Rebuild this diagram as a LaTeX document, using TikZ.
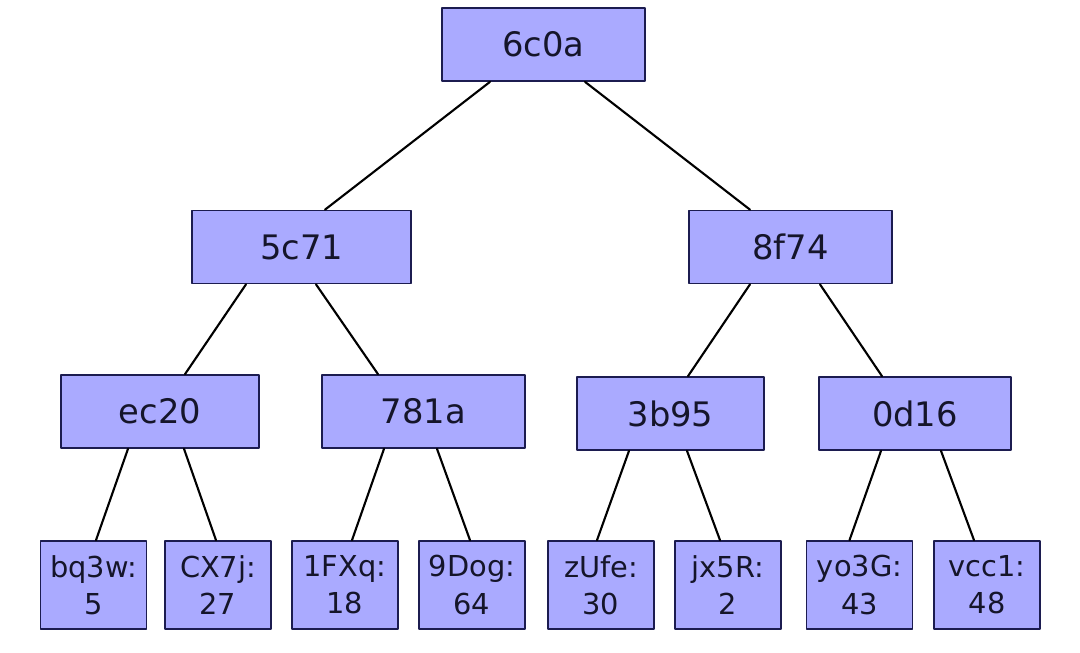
\documentclass[tikz,border=0pt]{standalone}
\usepackage{fontspec}
\setmainfont{DejaVu Sans}
\definecolor{nen}{HTML}{AAAAFF}
\definecolor{vien}{HTML}{1C1C50}
\definecolor{chu}{HTML}{15152A}
\def\px{0.025cm} % 1 px của hình gốc
\tikzset{
	hop/.style={draw=vien, fill=nen, text=chu, line width=1.2pt, inner sep=0pt, minimum height=73*\px, font=\fontsize{24}{29}\selectfont},
	la/.style={hop, align=center, minimum width=106*\px, minimum height=88*\px, font=\fontsize{20.5}{26.5}\selectfont},
	canh/.style={line width=1.5pt}
}
\begin{document}
\begin{tikzpicture}[x=\px, y=-\px, line cap=round, line join=round]
	\useasboundingbox (0,0) rectangle (1080,652); % khung hình
	\foreach \ten/\x/\y/\w in {6c0a/543.5/44.5/203, 5c71/301.5/247/219, 8f74/790.5/247/203, ec20/160/411.5/198, 781a/423.5/411.5/203, 3b95/670.5/413.5/187, 0d16/915/413.5/192}
	\node[hop, minimum width=\w*\px] (n\ten) at (\x,\y) {\ten}; % các nút trong
	\foreach \ten/\x/\so in {bq3w/93.5/5, CX7j/218/27, 1FXq/345/18, 9Dog/472/64, zUfe/601/30, jx5R/728/2, yo3G/859.5/43, vcc1/987/48}
	\node[la] (n\ten) at (\x,585) {\ten:\\\so}; % các lá
	\foreach \a/\da/\b/\db in {6c0a/-53.5/5c71/23.5, 6c0a/41.5/8f74/-40.5, 5c71/-55.5/ec20/25, 5c71/14.5/781a/-45.5, 8f74/-40.5/3b95/17.5, 8f74/29.5/0d16/-33, ec20/-32/bq3w/2.5, ec20/24/CX7j/-2, 781a/-39.5/1FXq/7, 781a/13.5/9Dog/-2, 3b95/-41.5/zUfe/-4, 3b95/16.5/jx5R/-8, 0d16/-34/yo3G/-10, 0d16/26/vcc1/-13}
	\draw[canh] ([xshift=\da*\px]n\a.south) -- ([xshift=\db*\px]n\b.north); % cạnh
\end{tikzpicture}
\end{document}
